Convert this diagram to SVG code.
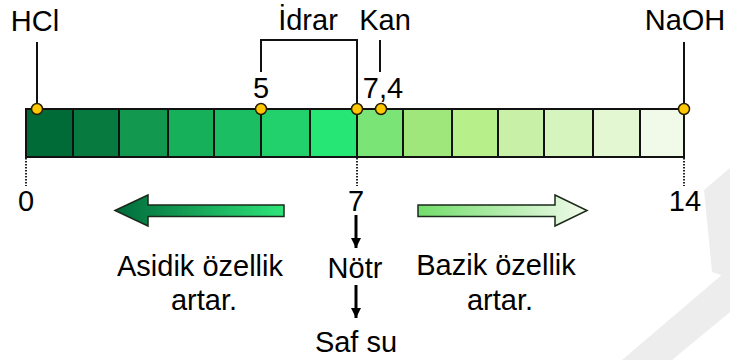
<svg xmlns="http://www.w3.org/2000/svg" width="730" height="360" viewBox="0 0 730 360">
<style>
text{font-family:"Liberation Sans",Arial,sans-serif;font-size:29px;fill:#000;text-anchor:middle}
.cell{stroke:#111;stroke-width:2}
.ln{stroke:#111;stroke-width:2;fill:none}
.dot{fill:#ffc800;stroke:#2a2000;stroke-width:1.5}
.dash{stroke:#222;stroke-width:2;stroke-dasharray:1.5 1.5}
.wm{fill:#ededed}
</style>
<defs>
<linearGradient id="gl" x1="0" y1="0" x2="1" y2="0">
<stop offset="0" stop-color="#00693a"/><stop offset="1" stop-color="#2ee67a"/>
</linearGradient>
<linearGradient id="gr" x1="0" y1="0" x2="1" y2="0">
<stop offset="0" stop-color="#72dd6a"/><stop offset="1" stop-color="#f2fbec"/>
</linearGradient>
<marker id="ah" viewBox="0 0 10 10" refX="10" refY="5" markerWidth="10" markerHeight="10" markerUnits="userSpaceOnUse" orient="auto">
<path d="M0,0 L10,5 L0,10 z" fill="#000"/>
</marker>
</defs>
<g id="watermark">
<polygon class="wm" points="704,190 730,168 730,278 712,272"/>
<polygon class="wm" points="622,360 672,360 730,312 730,268"/>
</g>
<g id="scale">
<rect class="cell" x="26" y="109" width="47" height="48" fill="#006b37"/>
<rect class="cell" x="73" y="109" width="46" height="48" fill="#077a3f"/>
<rect class="cell" x="119" y="109" width="49" height="48" fill="#12994f"/>
<rect class="cell" x="168" y="109" width="46" height="48" fill="#17b05a"/>
<rect class="cell" x="214" y="109" width="47" height="48" fill="#1cbe64"/>
<rect class="cell" x="261" y="109" width="49" height="48" fill="#22d06c"/>
<rect class="cell" x="310" y="109" width="47" height="48" fill="#26e676"/>
<rect class="cell" x="357" y="109" width="46" height="48" fill="#7be477"/>
<rect class="cell" x="403" y="109" width="49" height="48" fill="#9fe77a"/>
<rect class="cell" x="452" y="109" width="46" height="48" fill="#b7ef8b"/>
<rect class="cell" x="498" y="109" width="46" height="48" fill="#c8f0a6"/>
<rect class="cell" x="544" y="109" width="49" height="48" fill="#d6f4bd"/>
<rect class="cell" x="593" y="109" width="47" height="48" fill="#e3f7d2"/>
<rect class="cell" x="640" y="109" width="44" height="48" fill="#f1f9e9"/>
</g>
<g id="connectors">
<line class="ln" x1="37" y1="42" x2="37" y2="109"/>
<path class="ln" d="M261,72 V40 H357 V109"/>
<line class="ln" x1="380" y1="40" x2="380" y2="72"/>
<line class="ln" x1="684" y1="42" x2="684" y2="109"/>
<line class="dash" x1="26" y1="158" x2="26" y2="186"/>
<line class="dash" x1="357" y1="158" x2="357" y2="186"/>
<line class="dash" x1="684" y1="158" x2="684" y2="186"/>
<line x1="356" y1="215" x2="356" y2="248" stroke="#000" stroke-width="3" marker-end="url(#ah)"/>
<line x1="356" y1="285" x2="356" y2="318" stroke="#000" stroke-width="3" marker-end="url(#ah)"/>
</g>
<g id="dots">
<circle class="dot" cx="37" cy="109" r="5.5"/>
<circle class="dot" cx="261" cy="109" r="5.5"/>
<circle class="dot" cx="357" cy="109" r="5.5"/>
<circle class="dot" cx="381" cy="109" r="5.5"/>
<circle class="dot" cx="684" cy="109" r="5.5"/>
</g>
<g id="labels">
<text x="35" y="31">HCl</text>
<text x="308" y="30">İdrar</text>
<text x="385" y="30">Kan</text>
<text x="685" y="30">NaOH</text>
<text x="261" y="98">5</text>
<text x="383" y="98">7,4</text>
<text x="26" y="211">0</text>
<text x="356" y="211">7</text>
<text x="685" y="211">14</text>
<text x="355" y="278">Nötr</text>
<text x="356" y="352">Saf su</text>
</g>
<g id="acid">
<path d="M115,210.5 L148,195 L148,205 L284,205 L284,216.5 L148,216.5 L148,226 Z" fill="url(#gl)" stroke="#1a2a1a" stroke-width="1.5" stroke-linejoin="miter"/>
<text x="200" y="276">Asidik özellik</text>
<text x="204" y="310">artar.</text>
</g>
<g id="base">
<path d="M418,205 L555,205 L555,195 L587,210.5 L555,226 L555,216.5 L418,216.5 Z" fill="url(#gr)" stroke="#1a2a1a" stroke-width="1.5"/>
<text x="496" y="275">Bazik özellik</text>
<text x="500" y="310">artar.</text>
</g>
</svg>
